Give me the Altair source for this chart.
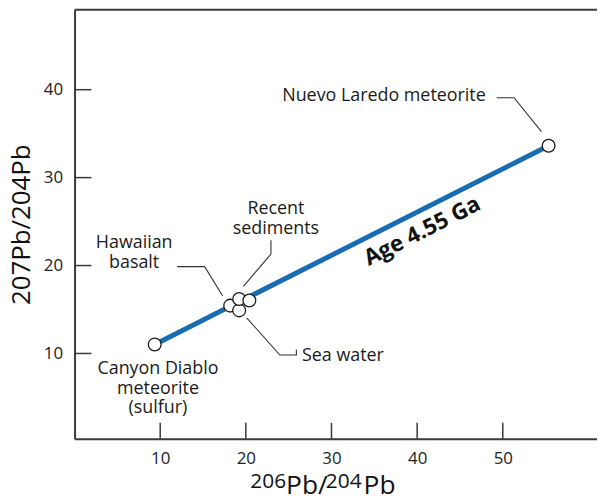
import altair as alt
import pandas as pd

FONT = "Open Sans"
BLUE = "#1a6cb2"
INK = "#1a1a1a"
AXIS = "#3a3a3a"

# ---- data ----
sample_names = ["Hawaiian basalt", "Sea water", "Recent sediments", "Recent sediments",
                "Canyon Diablo meteorite (sulfur)", "Nuevo Laredo meteorite"]
pb206_204 = [18.17, 19.22, 19.22, 20.41, 9.36, 55.35]
pb207_204 = [15.44, 14.90, 16.19, 16.03, 11.03, 33.62]

isochron_x = [9.36, 55.35]
isochron_y = [11.03, 33.62]
isochron_text = "Age 4.55 Ga"
isochron_text_x = [40.6]
isochron_text_y = [23.9]

x_ticks = [10, 20, 30, 40, 50]
y_ticks = [10, 20, 30, 40]

label_text = ["Nuevo Laredo meteorite", "Recent", "sediments", "Hawaiian", "basalt",
              "Sea water", "Canyon Diablo", "meteorite", "(sulfur)"]
label_x = [48.01, 23.51, 23.51, 6.96, 6.96, 26.56, 9.74, 9.74, 9.74]
label_y = [38.76, 25.83, 23.57, 21.99, 19.73, 9.14, 7.64, 5.38, 3.23]
label_align = ["right", "center", "center", "center", "center", "left", "center", "center", "center"]

leader_id = ["NL", "NL", "NL", "RS", "RS", "RS", "HB", "HB", "HB", "SW", "SW", "SW", "SW"]
leader_x = [49.29, 51.32, 54.51, 22.93, 22.93, 19.71, 11.98, 15.19, 17.28, 20.10, 23.97, 25.90, 25.90]
leader_y = [39.08, 39.08, 35.24, 22.89, 21.31, 17.62, 19.88, 19.88, 16.56, 14.05, 9.82, 9.82, 10.46]

# ---- layout ----
W, H = 526, 432
X_DOMAIN = [0, 61]
Y_DOMAIN = [0.3, 49.1]

xs = alt.Scale(domain=X_DOMAIN, nice=False, zero=False)
ys = alt.Scale(domain=Y_DOMAIN, nice=False, zero=False)

x_axis = alt.Axis(values=x_ticks, ticks=False, tickSize=0, grid=False, labelPadding=12,
                  labelFont=FONT, labelFontSize=17, labelColor="#222", labelFlush=False,
                  domainColor=AXIS, domainWidth=2, title=None)
y_axis = alt.Axis(values=y_ticks, ticks=False, tickSize=0, grid=False, labelPadding=12,
                  labelFont=FONT, labelFontSize=17, labelColor="#222",
                  domainColor=AXIS, domainWidth=2,
                  title="207Pb/204Pb", titleFont=FONT, titleFontSize=26,
                  titleFontWeight="normal", titleColor="#111", titleAngle=270,
                  titleX=-45, titleY=H / 2, titleAlign="center", titleBaseline="alphabetic")


def X(f):
    return alt.X(f, type="quantitative", scale=xs, axis=x_axis)


def Y(f):
    return alt.Y(f, type="quantitative", scale=ys, axis=y_axis)


one = pd.DataFrame({"a": [0]})

samples = pd.DataFrame({"name": sample_names, "x": pb206_204, "y": pb207_204})
iso = pd.DataFrame({"x": isochron_x, "y": isochron_y})
labels = pd.DataFrame({"t": label_text, "x": label_x, "y": label_y, "al": label_align})
leaders = pd.DataFrame({"id": leader_id, "x": leader_x, "y": leader_y,
                        "seq": list(range(len(leader_id)))})
xt = pd.DataFrame({"v": x_ticks})
yt = pd.DataFrame({"v": y_ticks})
age = pd.DataFrame({"t": [isochron_text], "x": isochron_text_x, "y": isochron_text_y})

top_line = alt.Chart(one).mark_rule(color=AXIS, strokeWidth=2).encode(
    x=alt.value(0), x2=alt.value(W), y=alt.value(0))

x_tick_rules = alt.Chart(xt).mark_rule(color=AXIS, strokeWidth=1.5).encode(
    x=X("v"), y=alt.value(H), y2=alt.value(H - 16))
y_tick_rules = alt.Chart(yt).mark_rule(color=AXIS, strokeWidth=1.5).encode(
    y=Y("v"), x=alt.value(0), x2=alt.value(17))

leader_lines = alt.Chart(leaders).mark_line(color="#333", strokeWidth=1.1).encode(
    x=X("x"), y=Y("y"), detail="id:N", order="seq:Q")

iso_line = alt.Chart(iso).mark_line(color=BLUE, strokeWidth=5, strokeCap="butt").encode(
    x=X("x"), y=Y("y"))

points = alt.Chart(samples).mark_point(shape="circle", filled=True, fill="white", stroke=INK,
                                       strokeWidth=1.3, size=165, opacity=1).encode(
    x=X("x"), y=Y("y"))

label_layers = []
for al in ["left", "center", "right"]:
    label_layers.append(
        alt.Chart(labels).transform_filter(alt.datum.al == al).mark_text(
            align=al, baseline="alphabetic", font=FONT, fontSize=18, color=INK).encode(
            x=X("x"), y=Y("y"), text="t:N"))

age_text = alt.Chart(age).mark_text(angle=333.2, font=FONT, fontSize=22.5, fontWeight="bold",
                                    align="center", baseline="middle", color="#111").encode(
    x=X("x"), y=Y("y"), text="t:N")

# x-axis title with raised mass numbers
title_parts = [("206", 177, 482, 21), ("Pb/", 213, 488, 26.5), ("204", 253, 482, 21), ("Pb", 291, 488, 26.5)]
title_layers = [
    alt.Chart(one).mark_text(text=t, align="left", baseline="alphabetic", font=FONT,
                             fontSize=fs, color="#111").encode(x=alt.value(px), y=alt.value(py))
    for t, px, py, fs in title_parts
]

chart = alt.layer(top_line, x_tick_rules, y_tick_rules, leader_lines, iso_line, points,
                  *label_layers, age_text, *title_layers).properties(
    width=W, height=H,
    autosize=alt.AutoSizeParams(type="none"),
    padding={"left": 67, "top": 0, "right": 0, "bottom": 64},
).configure_view(stroke=None)

chart.save("out.html", embed_options={"renderer": "svg", "actions": False})
